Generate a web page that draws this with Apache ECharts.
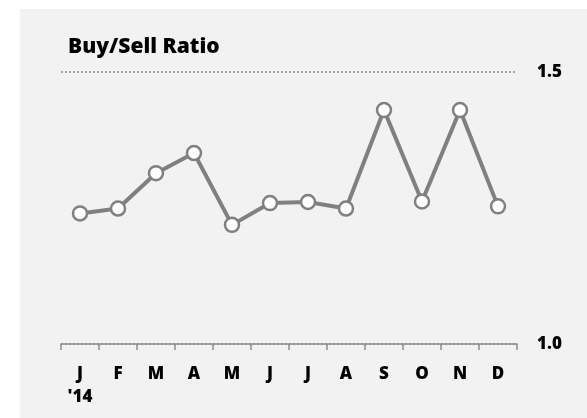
<!DOCTYPE html>
<html>
<head>
<meta charset="utf-8">
<script src="https://cdn.jsdelivr.net/npm/echarts@6/dist/echarts.min.js"></script>
<style>
html,body{margin:0;padding:0;background:#ffffff;}
#c{width:587px;height:418px;}
</style>
</head>
<body>
<div id="c"></div>
<script>
var title = 'Buy/Sell Ratio';
var months = ['J','F','M','A','M','J','J','A','S','O','N','D'];
var yearLabel = "'14";
var ratio = [1.240, 1.249, 1.314, 1.351, 1.219, 1.259, 1.261, 1.249, 1.430, 1.262, 1.430, 1.253];
var yMin = 1.0, yMax = 1.5, yStep = 0.5;

var chart = echarts.init(document.getElementById('c'), null, {renderer:'canvas'});
var font = '"Open Sans", "Noto Sans", sans-serif';
chart.setOption({
  backgroundColor: '#ffffff',
  animation: false,
  graphic: [{
    type: 'rect', z: -10, silent: true,
    shape: {x: 20, y: 9, width: 567, height: 409},
    style: {fill: '#f2f2f2'}
  }],
  title: {
    text: title, left: 63, top: 32,
    textStyle: {fontFamily: font, fontWeight: 800, fontSize: 21, color: '#000'}
  },
  grid: {left: 61, right: 70, top: 72, bottom: 74},
  xAxis: {
    type: 'category', data: months, boundaryGap: true,
    axisLine: {lineStyle: {color: '#8c8c8c', width: 1.5}},
    axisTick: {show: true, length: 6, lineStyle: {color: '#8c8c8c', width: 1.5}},
    axisLabel: {
      margin: 19, fontFamily: font, fontWeight: 800, fontSize: 17, color: '#000',
      lineHeight: 23,
      formatter: function (v, i) { return i === 0 ? v + '\n' + yearLabel : v; }
    }
  },
  yAxis: {
    type: 'value', position: 'right', min: yMin, max: yMax, interval: yStep,
    axisLine: {show: false}, axisTick: {show: false},
    splitLine: {show: true, lineStyle: {color: '#8c8c8c', type: [2, 2], width: 1.5}},
    axisLabel: {
      margin: 20, fontFamily: font, fontWeight: 800, fontSize: 17, color: '#000',
      formatter: function (v) { return v.toFixed(1); }
    }
  },
  series: [{
    type: 'line', data: ratio,
    symbol: 'circle', symbolSize: 14,
    lineStyle: {color: '#808080', width: 4},
    itemStyle: {color: '#ffffff', borderColor: '#808080', borderWidth: 2.5}
  }]
});
</script>
</body>
</html>
